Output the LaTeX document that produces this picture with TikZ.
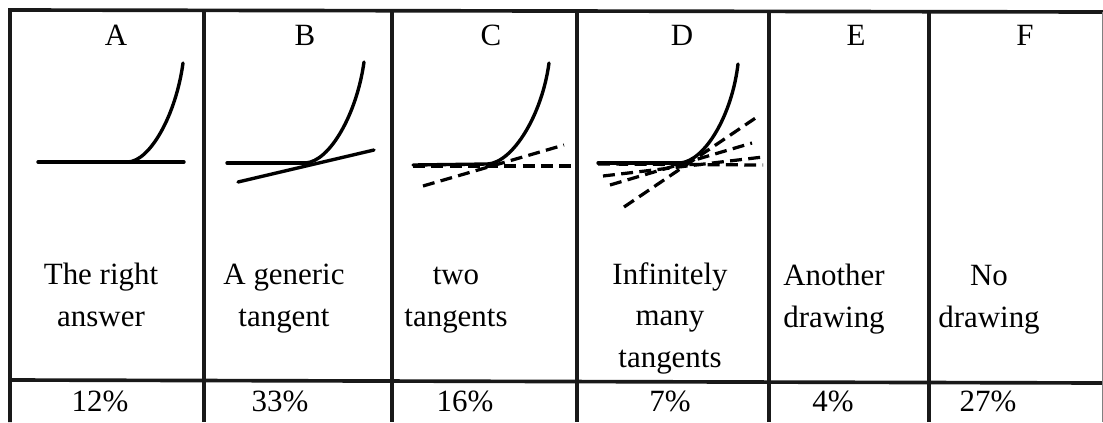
\documentclass[tikz,border=0pt]{standalone}
\usepackage{fontspec}
\setmainfont{Liberation Serif}
\usepackage{tikz}
\usetikzlibrary{positioning}

\begin{document}
\begin{tikzpicture}[x=0.025cm, y=-0.025cm,
                rahmen/.style={line width=2.6pt, black!90},
                kurve/.style={line width=2.4pt, line cap=round},
                tangente/.style={line width=2.3pt, dash pattern=on 8.5pt off 4.5pt},
                kopf/.style={font=\fontsize{22}{29.5}\selectfont, anchor=base, inner sep=0pt},
                beschr/.style={font=\fontsize{22}{29.5}\selectfont, anchor=base, align=center, inner sep=0pt}
            ]
            \useasboundingbox (0,0) rectangle (1103,422);

            % Rahmen
            \draw[rahmen] (10,422) -- (10,10) -- (1103,12);
            \draw[rahmen] (204,10) -- (204,422);
            \draw[rahmen] (392,11) -- (392,422);
            \draw[rahmen] (577,11) -- (577,422);
            \draw[rahmen] (769,11) -- (769,422);
            \draw[rahmen] (929,12) -- (929,422);
            \draw[rahmen] (10,380) -- (1103,383);
            \draw[line width=0.6pt, black!50] (1102,12) -- (1102,422);

            % Kopfzeile
            \node[kopf] (hA) at (116,45) {A};
            \node[kopf] (hB) at (305,45) {B};
            \node[kopf] (hC) at (491,45) {C};
            \node[kopf] (hD) at (682,45) {D};
            \node[kopf] (hE) at (856,45) {E};
            \node[kopf] (hF) at (1025,45) {F};

            % Zeichnungen
            \coordinate (tA) at (128,162);
            \coordinate (tB) at (305,163);
            \coordinate (tC) at (488,164);
            \coordinate (tD) at (680,163);

            \draw[kurve] (38,162) -- (184,162);
            \draw[kurve] (tA) .. controls (150,161) and (176,115) .. (183,63);

            \draw[kurve] (227,163) -- (308,163);
            \draw[kurve] (tB) .. controls (330,162) and (357,113) .. (364,62);
            \draw[kurve] (238,182) -- (374,150);

            \draw[kurve] (413,165) -- (tC);
            \draw[kurve] (tC) .. controls (513,162) and (542,115) .. (549,63);
            \draw[tangente] (413,166) -- (571,166);
            \draw[tangente] (423,186) -- (564,145);

            \draw[kurve] (598,163) -- (tD);
            \draw[kurve] (tD) .. controls (705,161) and (732,115) .. (738,64);
            \draw[tangente] (598,164) -- (763,165);
            \draw[tangente] (603,176) -- (763,157);
            \draw[tangente] (610,185) -- (752,143);
            \draw[tangente] (624,207) -- (757,117);

            % Beschriftung (base = letzte Zeile)
            \node[beschr] (cA) at (101,326) {The right\\answer};
            \node[beschr] (cB) at (284,326) {A generic\\tangent};
            \node[beschr] (cC) at (456,326) {two\\tangents};
            \node[beschr] (cD) at (670,367) {Infinitely\\many\\tangents};
            \node[beschr] (cE) at (834,327) {Another\\drawing};
            \node[beschr] (cF) at (989,327) {No\\drawing};

            % Prozente
            \node[kopf] (pA) at (100,411) {12\%};
            \node[kopf] (pB) at (280,411) {33\%};
            \node[kopf] (pC) at (465,411) {16\%};
            \node[kopf] (pD) at (670,411) {7\%};
            \node[kopf] (pE) at (833,411) {4\%};
            \node[kopf] (pF) at (988,411) {27\%};

        \end{tikzpicture}
\end{document}
